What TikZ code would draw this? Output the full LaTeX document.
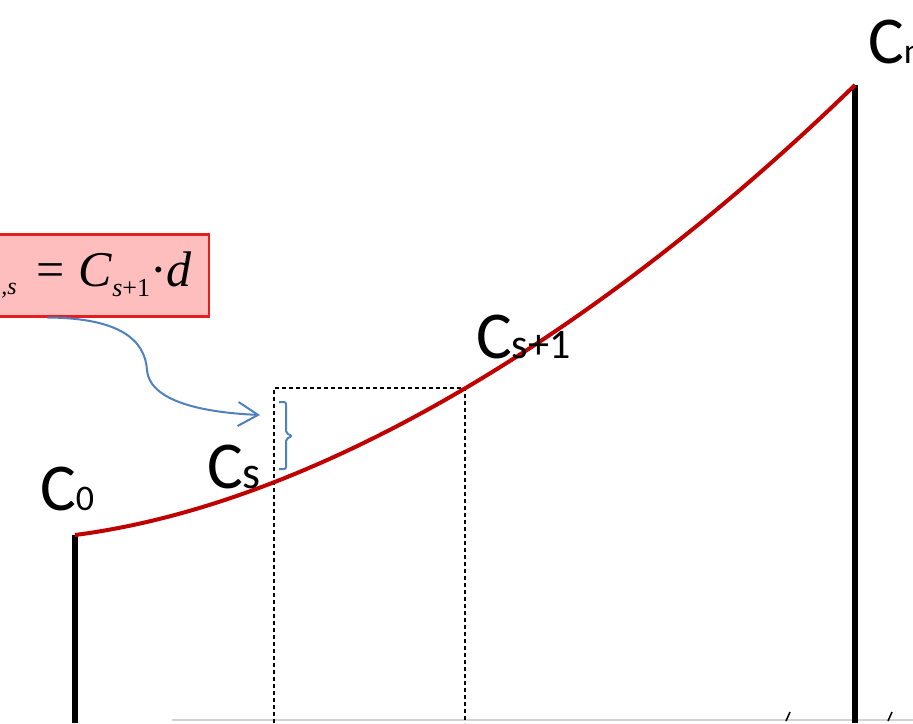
\documentclass[tikz,border=0pt]{standalone}
\usepackage{fontspec}
\setmainfont{Carlito}
\newfontfamily\tms{Liberation Serif}
\usetikzlibrary{arrows.meta,calc}
\definecolor{curvered}{RGB}{192,0,0}
\definecolor{boxred}{RGB}{230,30,30}
\definecolor{boxfill}{RGB}{255,190,190}
\definecolor{offblue}{RGB}{79,129,189}
\tikzset{
  lbl/.style={inner sep=0pt, anchor=base west, font=\fontsize{67}{67}\selectfont},
  eqbox/.style={draw=boxred, fill=boxfill, line width=2.5pt, inner xsep=17pt, inner ysep=0pt,
    minimum height=82pt, text width=226pt, align=right, anchor=north east},
  redcurve/.style={draw=curvered, line width=4pt},
  wall/.style={draw=black, line width=5.5pt},
  dashbox/.style={draw=black, line width=2.5pt, dash pattern=on 4pt off 3pt},
  bluearrow/.style={draw=offblue, line width=2pt, -{Straight Barb[length=20pt,width=24pt,line width=2pt]}},
  bluebrace/.style={draw=offblue, line width=2pt, rounded corners=2pt},
}
\begin{document}
\begin{tikzpicture}[x=1pt,y=-1pt]
\useasboundingbox (0,0) rectangle (913,723);
\fill[white] (0,0) rectangle (913,723);
% key points
\coordinate (p0) at (75,535);
\coordinate (pn) at (855,85);
\coordinate (b0) at (75,723);
\coordinate (bn) at (855,723);
\coordinate (dtl) at (274,388);
\coordinate (dtr) at (465,388);
\coordinate (dbl) at (274,723);
\coordinate (dbr) at (465,723);
% faint baseline
\coordinate (g0) at (172,720);
\coordinate (g1) at (913,720);
\draw[gray!35, line width=1.5pt] (g0) -- (g1);
\coordinate (m1a) at (786,721); \coordinate (m1b) at (790,712);
\coordinate (m2a) at (888,721); \coordinate (m2b) at (892,712);
\draw[line width=1.5pt] (m1a) -- (m1b);
\draw[line width=1.5pt] (m2a) -- (m2b);
% dashed rectangle
\draw[dashbox] (dbl) -- (dtl) -- (dtr) -- (dbr);
% walls
\draw[wall] (p0) -- (b0);
\draw[wall] (pn) -- (bn);
% curve
\draw[redcurve] (p0) .. controls (323,503) and (607,326) .. (pn);
% labels
\node[lbl] (c0) at (40,510) {C\fontsize{36}{36}\selectfont 0};
\node[lbl] (cs) at (207,488) {C\fontsize{46}{46}\selectfont s};
\node[lbl] (cs1) at (476,358) {C\fontsize{42}{42}\selectfont s+1};
\node[lbl] (cn) at (868,63) {C\fontsize{36}{36}\selectfont n};
% equation box
\node[eqbox] (eq) at (210,233) {\tms\raisebox{-8pt}{\fontsize{24}{24}\selectfont\itshape ,s}\hspace{20pt}{\fontsize{50}{50}\selectfont =\hspace{14pt}\itshape C}\raisebox{-10pt}{\fontsize{26}{26}\selectfont\itshape s\upshape +1}{\fontsize{50}{50}\selectfont ·\itshape d}};
% arrow
\coordinate (astart) at ($(eq.south west)+(100,0)$);
\coordinate (tip) at (260,415);
\draw[bluearrow] (astart) .. controls (120,318) and (145,340) .. (147,370) .. controls (150,405) and (215,413) .. (tip);
% brace
\coordinate (br0) at (279,402);
\coordinate (br1) at (279,469);
\draw[bluebrace] (br0) -- (286,402) -- (286,433) -- (292,436) -- (286,439) -- (286,469) -- (br1);
\end{tikzpicture}
\end{document}
